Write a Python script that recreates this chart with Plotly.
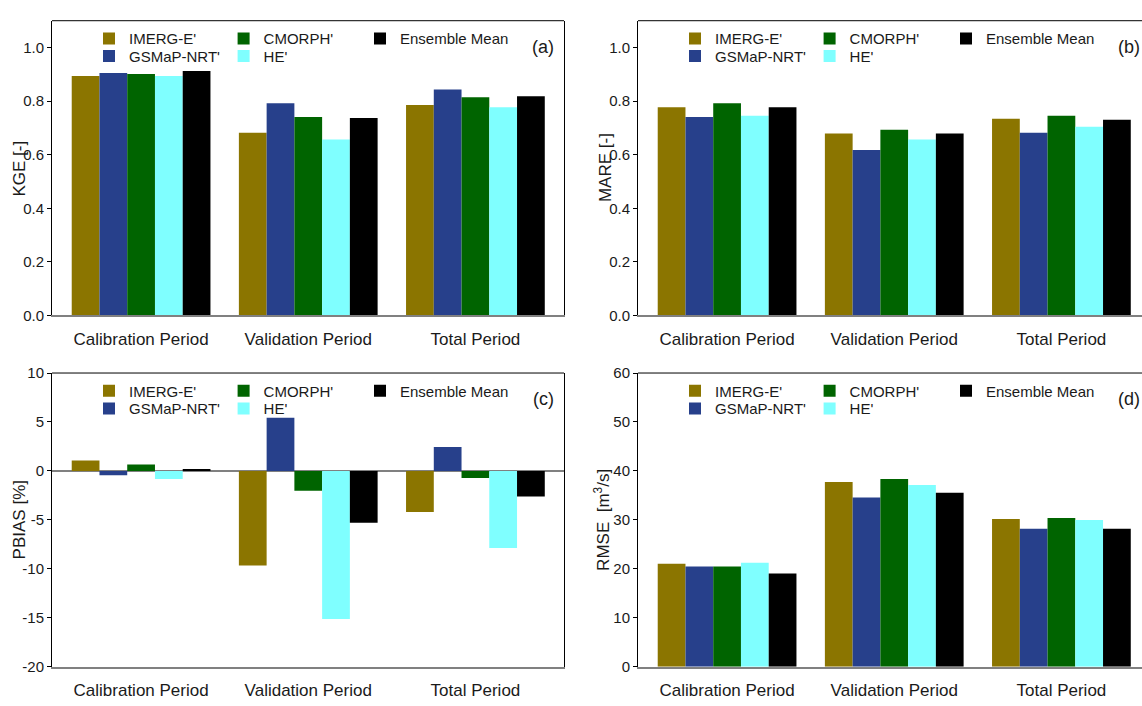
import plotly.graph_objects as go

W, H = 1142, 706

categories = ["Calibration Period", "Validation Period", "Total Period"]
series_names = ["IMERG-E'", "GSMaP-NRT'", "CMORPH'", "HE'", "Ensemble Mean"]
series_colors = ["#8B7500", "#27408B", "#006400", "#7FFFFF", "#000000"]

# (a) KGE [-]
kge_imerg = [0.894, 0.682, 0.785]
kge_gsmap = [0.905, 0.792, 0.843]
kge_cmorph = [0.901, 0.741, 0.814]
kge_he = [0.894, 0.657, 0.777]
kge_ens = [0.912, 0.737, 0.818]

# (b) MARE [-]
mare_imerg = [0.777, 0.679, 0.734]
mare_gsmap = [0.741, 0.617, 0.682]
mare_cmorph = [0.792, 0.693, 0.745]
mare_he = [0.745, 0.657, 0.704]
mare_ens = [0.777, 0.679, 0.730]

# (c) PBIAS [%]
pbias_imerg = [1.06, -9.67, -4.20]
pbias_gsmap = [-0.43, 5.43, 2.45]
pbias_cmorph = [0.66, -2.02, -0.73]
pbias_he = [-0.83, -15.13, -7.88]
pbias_ens = [0.17, -5.30, -2.62]

# (d) RMSE [m3/s]
rmse_imerg = [21.06, 37.75, 30.2]
rmse_gsmap = [20.46, 34.57, 28.2]
rmse_cmorph = [20.46, 38.34, 30.4]
rmse_he = [21.26, 37.15, 30.0]
rmse_ens = [19.07, 35.56, 28.2]

kge_ticks = [0.0, 0.2, 0.4, 0.6, 0.8, 1.0]
kge_ticktext = ["0.0", "0.2", "0.4", "0.6", "0.8", "1.0"]
pbias_ticks = [-20, -15, -10, -5, 0, 5, 10]
pbias_ticktext = ["-20", "-15", "-10", "-5", "0", "5", "10"]
rmse_ticks = [0, 10, 20, 30, 40, 50, 60]
rmse_ticktext = ["0", "10", "20", "30", "40", "50", "60"]

panel_labels = ["(a)", "(b)", "(c)", "(d)"]
y_titles = ["KGE [-]", "MARE [-]", "PBIAS [%]", "RMSE  [m<sup>3</sup>/s]"]

panels = [
    [kge_imerg, kge_gsmap, kge_cmorph, kge_he, kge_ens],
    [mare_imerg, mare_gsmap, mare_cmorph, mare_he, mare_ens],
    [pbias_imerg, pbias_gsmap, pbias_cmorph, pbias_he, pbias_ens],
    [rmse_imerg, rmse_gsmap, rmse_cmorph, rmse_he, rmse_ens],
]
y_ranges = [[0, 1.1], [0, 1.1], [-20, 10], [0, 60]]
y_tickvals = [kge_ticks, kge_ticks, pbias_ticks, rmse_ticks]
y_ticktexts = [kge_ticktext, kge_ticktext, pbias_ticktext, rmse_ticktext]

FONT = "Arial, Liberation Sans, sans-serif"
TXT = "#1a1a1a"

# pixel geometry of panels
left_px = [52, 638, 52, 638]
right_px = [564, 1142, 564, 1142]
top_px = [12, 12, 373, 373]
bot_px = [314, 314, 674, 674]
full_w = 512.0
cat_lo, cat_hi = -0.533, 2.53

def px(x):
    return x / W

def py(y):
    return 1 - y / H

fig = go.Figure()
layout = dict(
    width=W, height=H, margin=dict(l=0, r=0, t=0, b=0),
    paper_bgcolor="white", plot_bgcolor="white",
    barmode="group", bargap=0.17, bargroupgap=0,
    font=dict(family=FONT, size=15, color=TXT),
    annotations=[], shapes=[],
)

# legend entry positions (text start px relative to panel left, row center px relative to panel top)
col_text_off = [77, 211.6, 348]
row_off = [18.5, 36.5]
entry_pos = [(0, 0), (0, 1), (1, 0), (1, 1), (2, 0)]  # (col,row) for each series

leg_idx = 0
for p in range(4):
    sfx = "" if p == 0 else str(p + 1)
    xa = "x" + sfx
    ya = "y" + sfx
    for s in range(5):
        leg_idx += 1
        lname = "legend" if leg_idx == 1 else "legend%d" % leg_idx
        fig.add_trace(go.Bar(
            x=categories, y=panels[p][s], name=series_names[s],
            marker=dict(color=series_colors[s], line=dict(width=0)),
            xaxis=xa, yaxis=ya, legend=lname, showlegend=True,
        ))
        c, r = entry_pos[s]
        tx = left_px[p] + col_text_off[c] - 40
        ty = top_px[p] + row_off[r]
        layout[lname] = dict(
            x=px(tx), y=py(ty), xanchor="left", yanchor="middle",
            bgcolor="rgba(0,0,0,0)", borderwidth=0,
            font=dict(family=FONT, size=15, color=TXT),
            itemclick=False, itemdoubleclick=False,
        )
    span = (right_px[p] - left_px[p]) / full_w * (cat_hi - cat_lo)
    layout["xaxis" + sfx] = dict(
        domain=[px(left_px[p]), px(right_px[p])],
        anchor=ya, type="category",
        range=[cat_lo, cat_lo + span],
        showline=True, linecolor="#808080", linewidth=1.5, mirror=False,
        showgrid=False, zeroline=False,
        ticks="outside", ticklen=7, tickcolor="rgba(0,0,0,0)",
        tickfont=dict(family=FONT, size=17, color=TXT),
        fixedrange=True,
    )
    layout["yaxis" + sfx] = dict(
        domain=[py(bot_px[p]), py(top_px[p])],
        anchor=xa, range=y_ranges[p],
        tickmode="array", tickvals=y_tickvals[p], ticktext=y_ticktexts[p],
        showline=True, linecolor="#000000", linewidth=1,
        mirror=(p in (0, 2)),
        showgrid=False,
        zeroline=(p == 2), zerolinecolor="#808080", zerolinewidth=1.5,
        ticks="outside", ticklen=4, tickcolor="#000000", ticklabelstandoff=0,
        tickfont=dict(family=FONT, size=15, color=TXT),
        fixedrange=True,
    )
    # top frame line
    layout["shapes"].append(dict(
        type="line", xref=xa + " domain", yref=ya + " domain",
        x0=0, x1=1, y0=1, y1=1, line=dict(color="#000000", width=1),
    ))
    # panel label
    layout["annotations"].append(dict(
        text=panel_labels[p], xref="paper", yref="paper",
        x=px(left_px[p] + 491), y=py(top_px[p] + 26.5),
        xanchor="center", yanchor="middle", showarrow=False,
        font=dict(family=FONT, size=18, color=TXT),
    ))
    # y-axis title
    tx_off = [32.5, 33, 32.5, 36][p]
    layout["annotations"].append(dict(
        text=y_titles[p], xref="paper", yref="paper",
        x=px(left_px[p] - tx_off), y=py((top_px[p] + bot_px[p]) / 2),
        xanchor="center", yanchor="middle", showarrow=False, textangle=-90,
        font=dict(family=FONT, size=17, color=TXT),
    ))

fig.update_layout(**layout)
fig.write_html(
    "out.html", include_plotlyjs=True, config={"displayModeBar": False},
    post_script="document.body.style.margin='0px';document.body.style.overflow='hidden';",
)
